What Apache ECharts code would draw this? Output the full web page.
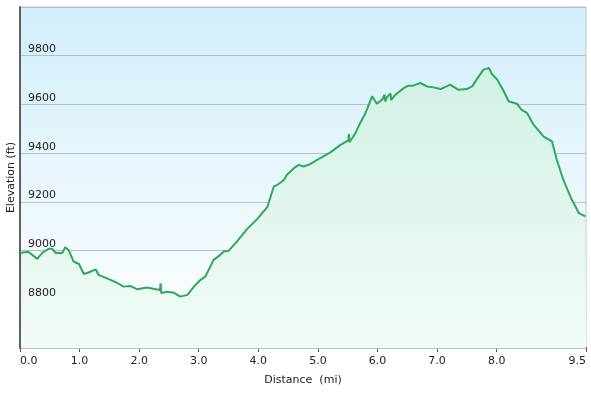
<!DOCTYPE html>
<html>
<head>
<meta charset="utf-8">
<script src="https://cdn.jsdelivr.net/npm/echarts@6/dist/echarts.min.js"></script>
<style>
html,body{margin:0;padding:0;background:#fff;}
#chart{width:591px;height:393px;}
</style>
</head>
<body>
<div id="chart"></div>
<script>
var distance = [0.0,0.14,0.29,0.37,0.48,0.54,0.60,0.71,0.76,0.82,0.90,0.99,1.07,1.15,1.27,1.32,1.46,1.60,1.74,1.85,1.97,2.13,2.24,2.35,2.36,2.37,2.47,2.58,2.69,2.81,2.92,3.03,3.11,3.25,3.34,3.42,3.50,3.64,3.81,3.98,4.15,4.26,4.32,4.43,4.48,4.62,4.68,4.76,4.87,5.04,5.21,5.38,5.51,5.52,5.53,5.63,5.71,5.80,5.91,5.99,6.08,6.12,6.13,6.16,6.22,6.23,6.30,6.44,6.52,6.60,6.72,6.83,6.94,7.06,7.22,7.36,7.50,7.59,7.70,7.78,7.87,7.92,8.01,8.12,8.20,8.34,8.42,8.51,8.62,8.79,8.93,9.01,9.12,9.25,9.38,9.49,9.5];
var elevation = [8990,8995,8966,8990,9007,9007,8990,8990,9014,9000,8955,8945,8904,8910,8923,8900,8886,8871,8852,8855,8841,8848,8843,8838,8865,8826,8831,8827,8811,8818,8852,8880,8893,8962,8978,8996,8999,9037,9088,9129,9178,9263,9270,9290,9311,9343,9352,9345,9355,9380,9403,9434,9452,9478,9445,9482,9524,9565,9633,9603,9620,9640,9612,9630,9645,9618,9640,9667,9677,9677,9688,9674,9670,9663,9681,9660,9663,9674,9715,9743,9750,9725,9702,9654,9613,9603,9578,9565,9517,9468,9448,9373,9290,9215,9154,9140,9140];
var xTicks = [0,1,2,3,4,5,6,7,8,9.5];
var yMin = 8600, yMax = 10000, yStep = 200;

var data = distance.map(function(d,i){return [d, elevation[i]];});
var FONT = 'DejaVu Sans';
var chart = echarts.init(document.getElementById('chart'), null, {renderer:'canvas'});
chart.setOption({
  animation:false,
  backgroundColor:'#ffffff',
  grid:{left:20,right:5,top:7,bottom:45,show:true,outerBoundsMode:'none',containLabel:false,
    borderColor:'#b9c5c9',borderWidth:1,
    backgroundColor:{type:'linear',x:0,y:0,x2:0,y2:1,colorStops:[{offset:0,color:'#d2eefa'},{offset:1,color:'#ffffff'}]}},
  xAxis:{type:'value',min:0,max:9.5,
    name:'Distance  (mi)',nameLocation:'middle',nameGap:27,nameMoveOverlap:false,
    nameTextStyle:{fontFamily:FONT,fontSize:11,color:'#222'},
    axisLine:{show:true,lineStyle:{color:'#555',width:2}},
    axisTick:{show:true,length:4,customValues:xTicks,lineStyle:{color:'#555',width:1}},
    axisLabel:{customValues:xTicks,margin:8,fontFamily:FONT,fontSize:11,color:'#222',
      alignMinLabel:'left',alignMaxLabel:'right',
      formatter:function(v){return v.toFixed(1);}},
    splitLine:{show:false}},
  yAxis:{type:'value',min:yMin,max:yMax,interval:yStep,z:3,
    name:'Elevation (ft)',nameLocation:'middle',nameGap:3,nameRotate:90,nameMoveOverlap:false,
    nameTextStyle:{fontFamily:FONT,fontSize:11,color:'#222'},
    axisLine:{show:true,lineStyle:{color:'#606060',width:2}},
    axisTick:{show:false},
    axisLabel:{inside:true,margin:8,verticalAlign:'bottom',fontFamily:FONT,fontSize:11,color:'#222',
      showMinLabel:false,showMaxLabel:false,padding:[0,0,1,0],
      formatter:function(v){return String(v);}},
    splitLine:{show:true,lineStyle:{color:'#b4c1c5',width:1}}},
  series:[{type:'line',data:data,symbol:'none',smooth:false,
    lineStyle:{color:'#2ea85b',width:2},
    areaStyle:{opacity:1,color:{type:'linear',x:0,y:0,x2:0,y2:1,colorStops:[{offset:0,color:'#d2f0e4'},{offset:1,color:'#f2fcf7'}]}}}]
});
</script>
</body>
</html>
